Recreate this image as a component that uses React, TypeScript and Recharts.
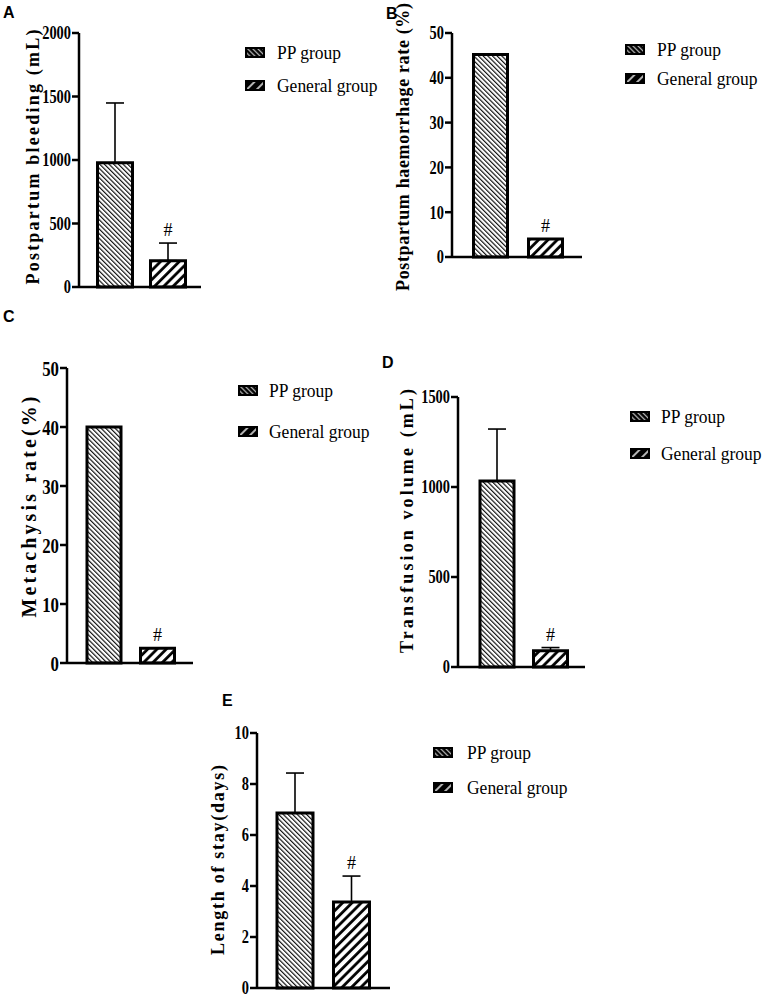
import React from 'react';
import { BarChart, Bar, XAxis, YAxis, ErrorBar, Cell, Legend, LabelList } from 'recharts';

// ---------- data ----------
const groups = ['PP group', 'General group'];

const bleedingMean = [978, 207];
const bleedingSD = [471, 139];
const bleedingTicks = [0, 500, 1000, 1500, 2000];

const haemorrhageRate = [45.2, 4.0];
const haemorrhageTicks = [0, 10, 20, 30, 40, 50];

const metachysisRate = [40, 2.5];
const metachysisTicks = [0, 10, 20, 30, 40, 50];

const transfusionMean = [1033, 90];
const transfusionSD = [289, 18];
const transfusionTicks = [0, 500, 1000, 1500];

const stayMean = [6.86, 3.37];
const staySD = [1.57, 1.02];
const stayTicks = [0, 2, 4, 6, 8, 10];

const significantMark = ['', '#'];

// ---------- styling ----------
const SERIF = '"Liberation Serif", "Times New Roman", Times, serif';
const SANS = '"Liberation Sans", Arial, Helvetica, sans-serif';

type Cfg = {
  letter: string;
  title: string;
  box: { l: number; t: number; w: number; h: number };
  axisX: number;
  plotTop: number;
  plotBottom: number;
  plotRight: number;
  padL: number;
  padR: number;
  barSize: number;
  tickFont: number;
  titleFont: number;
  titleX: number;
  titleY: number;
  titleLen: number;
  letterX: number;
  letterY: number;
  legendX: number;
  legendY: number;
  legendGap: number;
  legendTextGap: number;
};

const cfgA: Cfg = {
  letter: 'A', title: 'Postpartum bleeding (mL)',
  box: { l: 0, t: 0, w: 375, h: 300 },
  axisX: 79, plotTop: 33, plotBottom: 287, plotRight: 201, padL: 9.5, padR: 6.5, barSize: 35,
  tickFont: 18, titleFont: 18,
  titleX: 33, titleY: 157, titleLen: 255,
  letterX: 3, letterY: 18,
  legendX: 245, legendY: 52, legendGap: 33, legendTextGap: 12,
};
const cfgB: Cfg = {
  letter: 'B', title: 'Postpartum haemorrhage rate (%)',
  box: { l: 375, t: 0, w: 390, h: 300 },
  axisX: 452, plotTop: 33, plotBottom: 257, plotRight: 582, padL: 10.5, padR: 9.5, barSize: 34,
  tickFont: 18, titleFont: 18,
  titleX: 403, titleY: 147, titleLen: 288,
  letterX: 386, letterY: 19,
  legendX: 625, legendY: 49, legendGap: 29, legendTextGap: 12,
};
const cfgC: Cfg = {
  letter: 'C', title: 'Metachysis rate(%)',
  box: { l: 0, t: 300, w: 375, h: 380 },
  axisX: 67, plotTop: 368, plotBottom: 663, plotRight: 193, padL: 10, padR: 9, barSize: 34,
  tickFont: 21, titleFont: 20,
  titleX: 29, titleY: 507, titleLen: 221,
  letterX: 3, letterY: 322,
  legendX: 238, legendY: 390, legendGap: 41, legendTextGap: 11,
};
const cfgD: Cfg = {
  letter: 'D', title: 'Transfusion volume (mL)',
  box: { l: 375, t: 300, w: 390, h: 380 },
  axisX: 458, plotTop: 397, plotBottom: 667, plotRight: 585, padL: 12, padR: 8, barSize: 34,
  tickFont: 18, titleFont: 18,
  titleX: 407, titleY: 521, titleLen: 264,
  letterX: 382, letterY: 368,
  legendX: 630, legendY: 416, legendGap: 37, legendTextGap: 11,
};
const cfgE: Cfg = {
  letter: 'E', title: 'Length of stay(days)',
  box: { l: 190, t: 680, w: 430, h: 320 },
  axisX: 257, plotTop: 733, plotBottom: 988, plotRight: 390, padL: 10, padR: 10, barSize: 36,
  tickFont: 18, titleFont: 18,
  titleX: 218, titleY: 860, titleLen: 190,
  letterX: 222, letterY: 706,
  legendX: 433, legendY: 752, legendGap: 35, legendTextGap: 14,
};

const barFills = ['url(#hatchPP)', 'url(#hatchGen)'];
const legendFills = ['url(#legPP)', 'url(#legGen)'];

function LegendBox({ gap, textGap }: { gap: number; textGap: number }) {
  return (
    <div style={{ fontFamily: SERIF, fontSize: 19, color: '#000', whiteSpace: 'nowrap' }}>
      {groups.map((g, i) => (
        <div key={g} style={{ display: 'flex', alignItems: 'center', height: gap, lineHeight: 1 }}>
          <svg width={20} height={11} style={{ display: 'block' }}>
            <rect x={1} y={1} width={18} height={9} fill={legendFills[i]} stroke="#000" strokeWidth={2} />
          </svg>
          <span
            style={{
              marginLeft: textGap,
              display: 'inline-block',
              transform: 'scaleX(0.92)',
              transformOrigin: 'left center',
            }}
          >
            {g}
          </span>
        </div>
      ))}
    </div>
  );
}

function makeTick(fontSize: number) {
  return (props: any) => {
    const { x, y, payload } = props;
    return (
      <g transform={`translate(${x} ${y})`}>
        <text
          transform="scale(0.8 1)"
          x={0}
          y={0}
          dy="0.36em"
          textAnchor="end"
          fontFamily={SERIF}
          fontWeight={700}
          fontSize={fontSize}
          fill="#000"
          stroke="none"
        >
          {payload && payload.value}
        </text>
      </g>
    );
  };
}

function Panel({ cfg, values, ticks, sd }: { cfg: Cfg; values: number[]; ticks: number[]; sd?: number[] }) {
  const data = groups.map((g, i) => ({
    group: g,
    value: values[i],
    err: sd ? [0, sd[i]] : [0, 0],
  }));
  const YW = 50;
  const XH = 2;
  const margin = {
    top: cfg.plotTop - cfg.box.t,
    left: cfg.axisX - cfg.box.l - YW,
    right: cfg.box.l + cfg.box.w - cfg.plotRight,
    bottom: cfg.box.t + cfg.box.h - cfg.plotBottom - XH,
  };
  const tx = cfg.titleX - cfg.box.l;
  const ty = cfg.titleY - cfg.box.t;
  const lx = cfg.letterX - cfg.box.l;
  const ly = cfg.letterY - cfg.box.t;

  const titleRenderer = () => (
    <g>
      <text x={lx} y={ly} fontFamily={SANS} fontWeight={700} fontSize={16} fill="#000">
        {cfg.letter}
      </text>
      <text
        x={tx}
        y={ty}
        transform={`rotate(-90 ${tx} ${ty})`}
        textAnchor="middle"
        dominantBaseline="central"
        textLength={cfg.titleLen}
        lengthAdjust="spacing"
        fontFamily={SERIF}
        fontWeight={700}
        fontSize={cfg.titleFont}
        fill="#000"
      >
        {cfg.title}
      </text>
    </g>
  );

  const hashRenderer = (props: any) => {
    const vb = props.viewBox || {};
    const x = Number(props.x ?? vb.x);
    const y = Number(props.y ?? vb.y);
    const w = Number(props.width ?? vb.width);
    const h = Number(props.height ?? vb.height);
    const idx = Number(props.index);
    const v = Number(props.value);
    const mark = significantMark[idx];
    if (!mark || !isFinite(x) || !isFinite(y)) return null;
    const pxPerUnit = v ? Math.abs(h) / v : 0;
    const top = y - (sd ? sd[idx] : 0) * pxPerUnit;
    return (
      <text x={x + w / 2} y={top - 7} textAnchor="middle" fontFamily={SERIF} fontSize={18} fill="#000">
        {mark}
      </text>
    );
  };

  return (
    <div style={{ position: 'absolute', left: cfg.box.l, top: cfg.box.t }}>
      <BarChart width={cfg.box.w} height={cfg.box.h} data={data} margin={margin}>
        <XAxis
          dataKey="group"
          tick={false}
          tickLine={false}
          axisLine={{ stroke: '#000', strokeWidth: 2.5 }}
          height={XH}
          padding={{ left: cfg.padL, right: cfg.padR }}
        />
        <YAxis
          width={YW}
          type="number"
          domain={[0, ticks[ticks.length - 1]]}
          ticks={ticks}
          interval={0}
          tickSize={7}
          tickMargin={1}
          axisLine={{ stroke: '#000', strokeWidth: 2.5 }}
          tickLine={{ stroke: '#000', strokeWidth: 2.5 }}
          tick={makeTick(cfg.tickFont)}
          label={titleRenderer}
        />
        <Legend
          layout="vertical"
          align="center"
          verticalAlign="middle"
          content={() => <LegendBox gap={cfg.legendGap} textGap={cfg.legendTextGap} />}
          wrapperStyle={{
            left: cfg.legendX - cfg.box.l,
            top: cfg.legendY - cfg.legendGap / 2 - cfg.box.t,
            width: 'auto',
            height: 'auto',
            bottom: 'auto',
            right: 'auto',
          }}
        />
        <Bar dataKey="value" barSize={cfg.barSize} stroke="#000" strokeWidth={3} isAnimationActive={false}>
          {data.map((d, i) => (
            <Cell key={d.group} fill={barFills[i]} />
          ))}
          {sd ? (
            <ErrorBar dataKey="err" width={9} stroke="#000" strokeWidth={1.6} direction="y" isAnimationActive={false} />
          ) : null}
          <LabelList dataKey="value" content={hashRenderer} />
        </Bar>
      </BarChart>
    </div>
  );
}

export default function App() {
  return (
    <div style={{ position: 'absolute', left: 0, top: 0, width: 765, height: 1000, background: '#fff' }}>
      <svg width={0} height={0} style={{ position: 'absolute' }}>
        <defs>
          <pattern id="hatchPP" width={3.3} height={3.3} patternUnits="userSpaceOnUse" patternTransform="rotate(-45)">
            <rect width={3.3} height={3.3} fill="#fff" />
            <line x1={0.6} y1={0} x2={0.6} y2={3.3} stroke="#000" strokeWidth={1.1} />
          </pattern>
          <pattern id="hatchGen" width={6.6} height={6.6} patternUnits="userSpaceOnUse" patternTransform="rotate(45)">
            <rect width={6.6} height={6.6} fill="#fff" />
            <line x1={1.5} y1={0} x2={1.5} y2={6.6} stroke="#000" strokeWidth={2.8} />
          </pattern>
          <pattern id="legPP" width={3.6} height={3.6} patternUnits="userSpaceOnUse" patternTransform="rotate(-45)">
            <rect width={3.6} height={3.6} fill="#000" />
            <line x1={0.7} y1={0} x2={0.7} y2={3.6} stroke="#fff" strokeWidth={0.9} />
          </pattern>
          <pattern id="legGen" width={7} height={7} patternUnits="userSpaceOnUse" patternTransform="rotate(45)">
            <rect width={7} height={7} fill="#000" />
            <line x1={1} y1={0} x2={1} y2={7} stroke="#fff" strokeWidth={1.4} />
          </pattern>
        </defs>
      </svg>
      <Panel cfg={cfgA} values={bleedingMean} sd={bleedingSD} ticks={bleedingTicks} />
      <Panel cfg={cfgB} values={haemorrhageRate} ticks={haemorrhageTicks} />
      <Panel cfg={cfgC} values={metachysisRate} ticks={metachysisTicks} />
      <Panel cfg={cfgD} values={transfusionMean} sd={transfusionSD} ticks={transfusionTicks} />
      <Panel cfg={cfgE} values={stayMean} sd={staySD} ticks={stayTicks} />
    </div>
  );
}
